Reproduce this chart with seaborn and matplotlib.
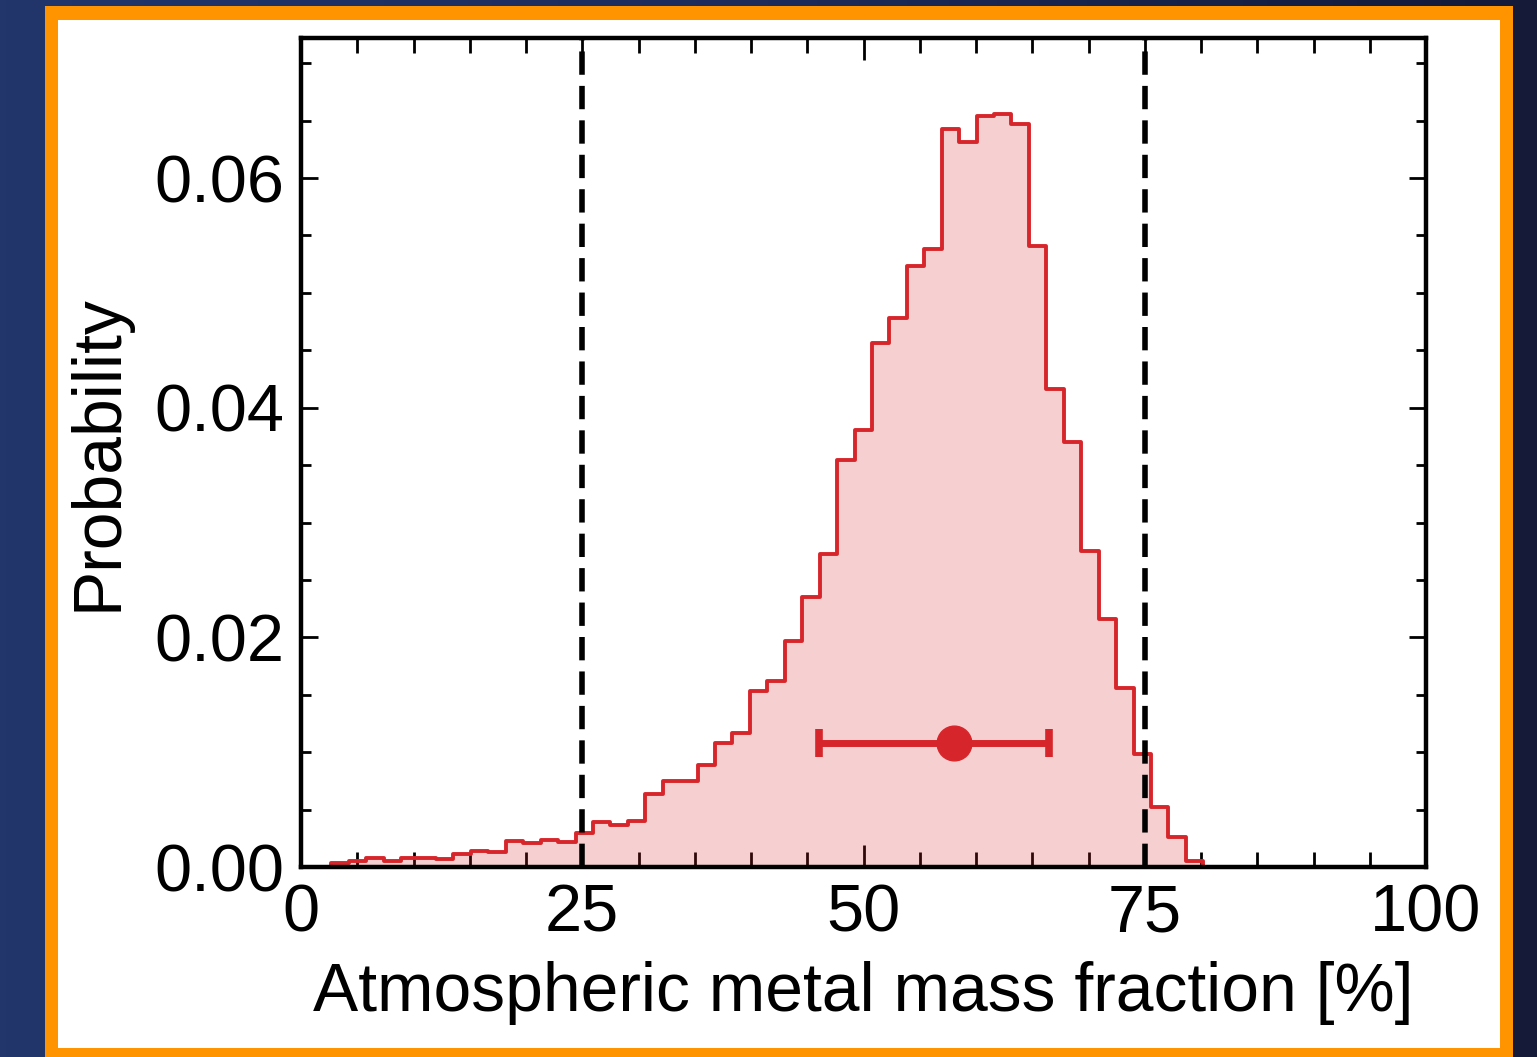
import numpy as np
import pandas as pd
import matplotlib
matplotlib.use("Agg")
import matplotlib.pyplot as plt
from matplotlib.patches import Rectangle
from matplotlib.colors import LinearSegmentedColormap
from matplotlib.ticker import MultipleLocator, FormatStrFormatter
import seaborn as sns

# ---------------- data ----------------
bin_lo, bin_hi, n_bins = 2.7, 80.2, 50
probability = [
    0.00037, 0.00052, 0.00076, 0.00052, 0.00076, 0.00081, 0.00067, 0.00116, 0.00140, 0.00133,
    0.00226, 0.00206, 0.00232, 0.00220, 0.00300, 0.00390, 0.00366, 0.00400, 0.00640, 0.00750,
    0.00750, 0.00890, 0.01080, 0.01170, 0.01530, 0.01620, 0.01970, 0.02350, 0.02730, 0.03545,
    0.03810, 0.04560, 0.04780, 0.05235, 0.05380, 0.06430, 0.06310, 0.06540, 0.06560, 0.06470,
    0.05410, 0.04160, 0.03700, 0.02755, 0.02160, 0.01560, 0.00984, 0.00520, 0.00264, 0.00055,
]
bound_lines = [25, 75]
best_value = 58.0
best_lower = 46.05
best_upper = 66.45
best_y = 0.0108
x_ticks = [0, 25, 50, 75, 100]
y_ticks = [0.00, 0.02, 0.04, 0.06]
x_label = "Atmospheric metal mass fraction [%]"
y_label = "Probability"

edges = np.linspace(bin_lo, bin_hi, n_bins + 1)
centers = 0.5 * (edges[:-1] + edges[1:])
df = pd.DataFrame({"fraction": centers, "prob": probability})

# ---------------- style ----------------
sns.set_style("ticks")
plt.rcParams["font.family"] = ["Liberation Sans", "DejaVu Sans"]

RED = "#d7262b"
ORANGE = "#ff9400"

W, H = 1537, 1057
fig = plt.figure(figsize=(W / 100, H / 100), dpi=100)

# dark blue gradient background
bg = fig.add_axes([0, 0, 1, 1], zorder=-10)
cmap = LinearSegmentedColormap.from_list("bg", ["#22366c", "#1c2b5a", "#141a38"])
grad = np.linspace(0, 1, 256)[None, :]
bg.imshow(grad, aspect="auto", cmap=cmap, extent=[0, 1, 0, 1])
bg.set_axis_off()

# orange frame and white panel
fig.add_artist(Rectangle((45 / W, 0), (1513 - 45) / W, (H - 6) / H,
                         transform=fig.transFigure, facecolor=ORANGE,
                         edgecolor="none", zorder=-5))
fig.add_artist(Rectangle((58 / W, (H - 1048) / H), (1500 - 58) / W, (1048 - 20) / H,
                         transform=fig.transFigure, facecolor="white",
                         edgecolor="none", zorder=-4))

ax = fig.add_axes([301 / W, (H - 867) / H, (1426 - 301) / W, (867 - 38) / H], zorder=1)
ax.set_facecolor("white")

sns.histplot(data=df, x="fraction", weights="prob", bins=n_bins,
             binrange=(bin_lo, bin_hi), element="step",
             fill=True, color=RED, alpha=0.22, linewidth=2.8, ax=ax, zorder=2)

for xv in bound_lines:
    ax.axvline(xv, color="black", linewidth=4.0, linestyle=(0, (4.2, 2.0)), zorder=3)

ax.errorbar([best_value], [best_y],
            xerr=[[best_value - best_lower], [best_upper - best_value]],
            fmt="o", color=RED, markersize=25, elinewidth=5,
            capsize=10, capthick=5.5, zorder=4)

ax.set_xlim(0, 100)
ax.set_ylim(0, 0.0722)
ax.set_xticks(x_ticks)
ax.set_yticks(y_ticks)
ax.xaxis.set_minor_locator(MultipleLocator(5))
ax.yaxis.set_minor_locator(MultipleLocator(0.005))
ax.yaxis.set_major_formatter(FormatStrFormatter("%.2f"))

for s in ax.spines.values():
    s.set_linewidth(3.2)
    s.set_color("black")
    s.set_visible(True)

ax.tick_params(axis="both", which="both", direction="in", top=True, right=True,
               width=2.0, colors="black", labelsize=48)
ax.tick_params(axis="x", which="major", length=16, pad=12)
ax.tick_params(axis="x", which="minor", length=11)
ax.tick_params(axis="y", which="major", length=12, pad=12)
ax.tick_params(axis="y", which="minor", length=7)

ax.set_xlabel(x_label, fontsize=48.8, labelpad=11, color="black")
ax.set_ylabel(y_label, fontsize=48.8, labelpad=17, color="black")

fig.savefig("out.png", dpi=100)
